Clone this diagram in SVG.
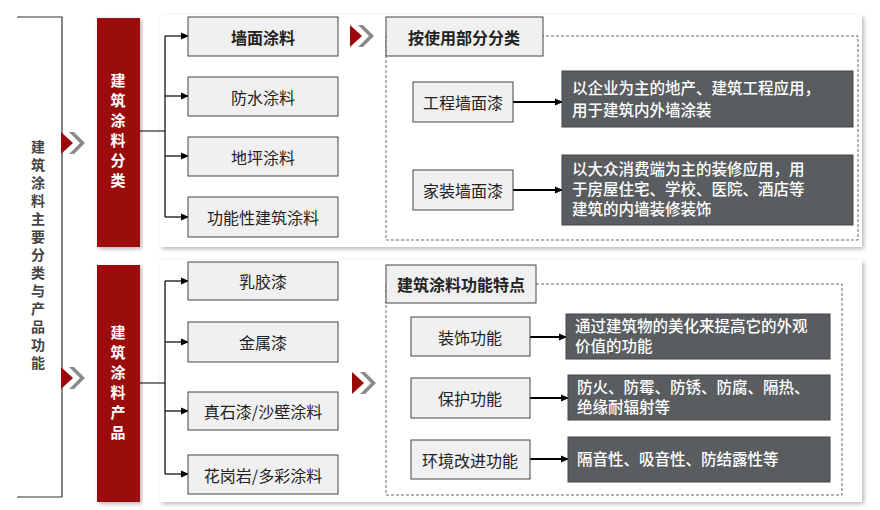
<svg xmlns="http://www.w3.org/2000/svg" width="880" height="510" viewBox="0 0 880 510">
<defs>
<marker id="ah" markerWidth="8" markerHeight="8" refX="7" refY="4" orient="auto" markerUnits="userSpaceOnUse"><path d="M0,0.5 L8,4 L0,7.5 Z" fill="#000"/></marker>
<filter id="sh" x="-5%" y="-5%" width="110%" height="115%"><feDropShadow dx="2" dy="2" stdDeviation="2" flood-color="#888" flood-opacity="0.6"/></filter>
</defs>
<style>
text{font-family:"Noto Sans CJK SC","Liberation Sans",sans-serif;}
.box{fill:#f0f0f0;stroke:#444;stroke-width:1}
.t{font-size:16px;fill:#222;text-anchor:middle;dominant-baseline:central}
.b{font-weight:bold}
.red{fill:#9b0a0a;filter:url(#sh)}
.rt{font-size:15px;fill:#fff;font-weight:bold;text-anchor:middle}
.dk{fill:#595d60;stroke:#444}
.dt{font-size:15.5px;fill:#fff;font-weight:500}
.dash{fill:none;stroke:#666;stroke-dasharray:3,2}
.ln{stroke:#000;stroke-width:1.2;fill:none}
.ln2{stroke:#000;stroke-width:2;fill:none}
.ch1{fill:#9b0a0a}
.ch2{fill:#8a8a8a}
</style>
<rect width="880" height="510" fill="#fff"/>
<g id="panels">
<rect x="160" y="15" width="702" height="232" fill="#fff" filter="url(#sh)"/>
<rect x="160" y="260" width="702" height="242" fill="#fff" filter="url(#sh)"/>
</g>
<g id="main">
<path d="M17,17 H62 V497 H17" fill="none" stroke="#333" stroke-width="1.2"/>
<text font-size="14" font-weight="bold" fill="#444" text-anchor="middle"><tspan x="38" y="152">建</tspan><tspan x="38" y="170">筑</tspan><tspan x="38" y="188">涂</tspan><tspan x="38" y="206">料</tspan><tspan x="38" y="224">主</tspan><tspan x="38" y="242">要</tspan><tspan x="38" y="260">分</tspan><tspan x="38" y="278">类</tspan><tspan x="38" y="296">与</tspan><tspan x="38" y="314">产</tspan><tspan x="38" y="332">品</tspan><tspan x="38" y="350">功</tspan><tspan x="38" y="368">能</tspan></text>
</g>
<g id="chevrons">
<path class="ch1" d="M61,132 L73,143 L61,154 Z"/><path class="ch2" d="M69,132 L74,132 L85,143 L74,154 L69,154 L80,143 Z"/>
<path class="ch1" d="M61,367 L73,378 L61,389 Z"/><path class="ch2" d="M69,367 L74,367 L85,378 L74,389 L69,389 L80,378 Z"/>
<path class="ch1" d="M350,25 L362,36 L350,47 Z"/><path class="ch2" d="M358,25 L363,25 L374,36 L363,47 L358,47 L369,36 Z"/>
<path class="ch1" d="M352,372 L364,383 L352,394 Z"/><path class="ch2" d="M360,372 L365,372 L376,383 L365,394 L360,394 L371,383 Z"/>
</g>
<g id="cat">
<rect class="red" x="97" y="18" width="43" height="229"/>
<text class="rt"><tspan x="118" y="86">建</tspan><tspan x="118" y="106">筑</tspan><tspan x="118" y="126">涂</tspan><tspan x="118" y="146">料</tspan><tspan x="118" y="166">分</tspan><tspan x="118" y="186">类</tspan></text>
</g>
<g id="prod">
<rect class="red" x="97" y="265" width="43" height="237"/>
<text class="rt"><tspan x="118" y="338">建</tspan><tspan x="118" y="358">筑</tspan><tspan x="118" y="378">涂</tspan><tspan x="118" y="398">料</tspan><tspan x="118" y="418">产</tspan><tspan x="118" y="438">品</tspan></text>
</g>
<g id="connectors">
<path class="ln" d="M140,131 H165 M165,36 V217"/>
<path class="ln" marker-end="url(#ah)" d="M165,36 H188"/><path class="ln" marker-end="url(#ah)" d="M165,96 H188"/><path class="ln" marker-end="url(#ah)" d="M165,156 H188"/><path class="ln" marker-end="url(#ah)" d="M165,217 H188"/>
<path class="ln" d="M140,383 H165 M165,281 V474"/>
<path class="ln" marker-end="url(#ah)" d="M165,281 H188"/><path class="ln" marker-end="url(#ah)" d="M165,342 H188"/><path class="ln" marker-end="url(#ah)" d="M165,411 H188"/><path class="ln" marker-end="url(#ah)" d="M165,474 H188"/>
<path class="ln2" marker-end="url(#ah)" d="M513,102 H562"/><path class="ln2" marker-end="url(#ah)" d="M513,190 H562"/>
<path class="ln2" marker-end="url(#ah)" d="M530,337 H566"/><path class="ln2" marker-end="url(#ah)" d="M530,398 H568"/><path class="ln2" marker-end="url(#ah)" d="M530,459 H568"/>
</g>
<g id="n1"><rect class="box" x="188" y="17" width="150" height="39"/><text class="t b" x="263" y="37">墙面涂料</text></g>
<g id="n2"><rect class="box" x="188" y="77" width="150" height="39"/><text class="t" x="263" y="97">防水涂料</text></g>
<g id="n3"><rect class="box" x="188" y="137" width="150" height="39"/><text class="t" x="263" y="157">地坪涂料</text></g>
<g id="n4"><rect class="box" x="188" y="197" width="150" height="40"/><text class="t" x="263" y="217">功能性建筑涂料</text></g>
<g id="n5"><rect class="box" x="188" y="262" width="150" height="38"/><text class="t" x="263" y="281">乳胶漆</text></g>
<g id="n6"><rect class="box" x="188" y="322" width="150" height="40"/><text class="t" x="263" y="342">金属漆</text></g>
<g id="n7"><rect class="box" x="188" y="392" width="150" height="38"/><text class="t" x="263" y="411">真石漆/沙壁涂料</text></g>
<g id="n8"><rect class="box" x="188" y="455" width="150" height="39"/><text class="t" x="263" y="475">花岗岩/多彩涂料</text></g>
<g id="usage">
<rect class="dash" x="386" y="36" width="472" height="204"/>
<rect class="box" x="386" y="17" width="157" height="39"/><text class="t b" x="464" y="37">按使用部分分类</text>
</g>
<g id="u1"><rect class="box" x="413" y="82" width="100" height="40"/><text class="t" x="463" y="102">工程墙面漆</text></g>
<g id="u1d"><rect class="dk" x="562" y="71" width="291" height="56"/><text class="dt"><tspan x="572" y="94">以企业为主的地产、建筑工程应用，</tspan><tspan x="572" y="116">用于建筑内外墙涂装</tspan></text></g>
<g id="u2"><rect class="box" x="413" y="170" width="100" height="40"/><text class="t" x="463" y="190">家装墙面漆</text></g>
<g id="u2d"><rect class="dk" x="562" y="155" width="291" height="70"/><text class="dt"><tspan x="572" y="175">以大众消费端为主的装修应用，用</tspan><tspan x="572" y="195">于房屋住宅、学校、医院、酒店等</tspan><tspan x="572" y="215">建筑的内墙装修装饰</tspan></text></g>
<g id="func">
<rect class="dash" x="386" y="284" width="456" height="211"/>
<rect class="box" x="386" y="265" width="150" height="38"/><text class="t b" x="461" y="284">建筑涂料功能特点</text>
</g>
<g id="f1"><rect class="box" x="411" y="317" width="119" height="39"/><text class="t" x="470" y="337">装饰功能</text></g>
<g id="f1d"><rect class="dk" x="566" y="314" width="264" height="45"/><text class="dt"><tspan x="575" y="332">通过建筑物的美化来提高它的外观</tspan><tspan x="575" y="352">价值的功能</tspan></text></g>
<g id="f2"><rect class="box" x="411" y="378" width="119" height="40"/><text class="t" x="470" y="398">保护功能</text></g>
<g id="f2d"><rect class="dk" x="568" y="375" width="262" height="45"/><text class="dt"><tspan x="577" y="393">防火、防霉、防锈、防腐、隔热、</tspan><tspan x="577" y="413">绝缘耐辐射等</tspan></text></g>
<g id="f3"><rect class="box" x="411" y="440" width="119" height="39"/><text class="t" x="470" y="460">环境改进功能</text></g>
<g id="f3d"><rect class="dk" x="568" y="437" width="262" height="45"/><text class="dt" x="577" y="465">隔音性、吸音性、防结露性等</text></g>
</svg>
